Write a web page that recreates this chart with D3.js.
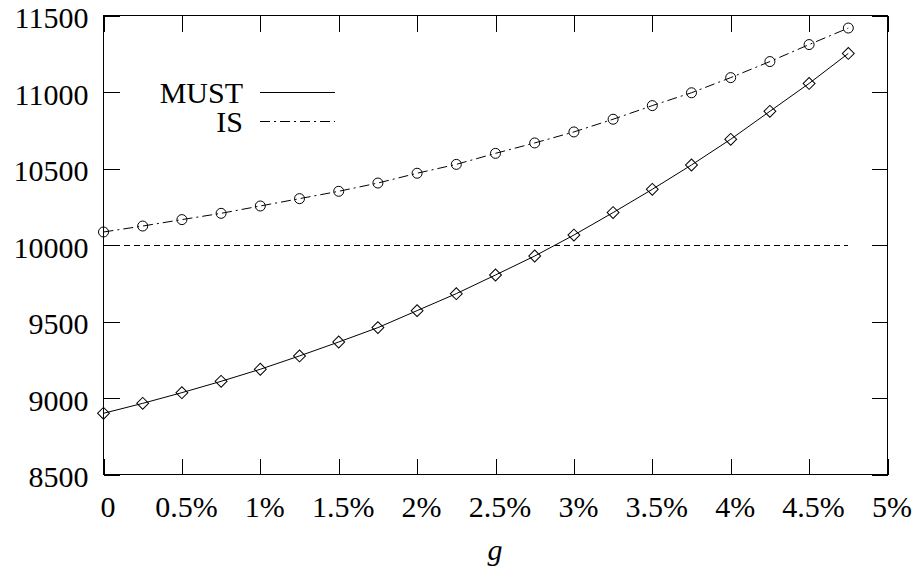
<!DOCTYPE html>
<html>
<head>
<meta charset="utf-8">
<script src="https://d3js.org/d3.v7.min.js"></script>
</head>
<body style="margin:0">
<script>
// growth rate g (0 .. 4.75%)
var gValues = [0, 0.0025, 0.005, 0.0075, 0.01, 0.0125, 0.015, 0.0175, 0.02, 0.0225,
               0.025, 0.0275, 0.03, 0.0325, 0.035, 0.0375, 0.04, 0.0425, 0.045, 0.0475];
var mustValues = [8900, 8965, 9035, 9109, 9188, 9275, 9366, 9460, 9571, 9682,
                  9804, 9928, 10065, 10212, 10364, 10523, 10691, 10874, 11056, 11252];
var isValues = [10085, 10124, 10166, 10207, 10255, 10303, 10351, 10405, 10469, 10527,
                10599, 10667, 10739, 10822, 10911, 10995, 11094, 11199, 11310, 11418];
var refLevel = 10000; // dashed reference line

var xTicks = [0, 0.005, 0.01, 0.015, 0.02, 0.025, 0.03, 0.035, 0.04, 0.045, 0.05];
var xTickLabels = ["0", "0.5%", "1%", "1.5%", "2%", "2.5%", "3%", "3.5%", "4%", "4.5%", "5%"];
var yTicks = [8500, 9000, 9500, 10000, 10500, 11000, 11500];
var seriesNames = ["MUST", "IS"];

var margin = {top: 15.5, left: 103.5};
var width = 784;
var height = 459;

var svg = d3.select("body").append("svg").attr("width", 913).attr("height", 570)
  .attr("font-family", "Liberation Serif").attr("font-size", 30);
var plot = svg.append("g").attr("transform", "translate(" + margin.left + "," + margin.top + ")");

var x = d3.scaleLinear().domain([0, 0.05]).range([0, width]);
var y = d3.scaleLinear().domain([8500, 11500]).range([height, 0]);

// frame
plot.append("rect").attr("width", width).attr("height", height)
  .attr("fill", "none").attr("stroke", "#000").attr("stroke-width", 1);

// tick labels, drawn as plain text
plot.selectAll(".ylab").data(yTicks).enter().append("text")
  .attr("class", "ylab")
  .attr("x", -15).attr("y", function(d) { return y(d); }).attr("dy", "0.42em")
  .attr("text-anchor", "end").attr("font-family", "Liberation Serif").attr("font-size", 30)
  .text(function(d) { return d; });
plot.selectAll(".xlab").data(xTicks).enter().append("text")
  .attr("class", "xlab")
  .attr("x", function(d) { return x(d) + 4.5; }).attr("y", height + 42)
  .attr("text-anchor", "middle").attr("font-family", "Liberation Serif").attr("font-size", 30)
  .text(function(d, i) { return xTickLabels[i]; });

// inward ticks on all four sides
var axes = [
  d3.axisLeft(y).tickValues(yTicks),
  d3.axisRight(y).tickValues(yTicks),
  d3.axisTop(x).tickValues(xTicks),
  d3.axisBottom(x).tickValues(xTicks)
];
var shifts = ["0,0", width + ",0", "0,0", "0," + height];
axes.forEach(function(a, i) {
  plot.append("g").attr("transform", "translate(" + shifts[i] + ")")
    .call(a.tickFormat("").tickSizeInner(-16).tickSizeOuter(0));
});
plot.selectAll(".domain").remove();
plot.selectAll(".tick line").attr("stroke", "#000").attr("shape-rendering", "crispEdges");

// reference line at 10000
plot.append("line")
  .attr("x1", x(gValues[0])).attr("x2", x(gValues[gValues.length - 1]))
  .attr("y1", y(refLevel)).attr("y2", y(refLevel))
  .attr("stroke", "#000").attr("stroke-dasharray", "6,4").attr("shape-rendering", "crispEdges");

var line = d3.line()
  .x(function(d, i) { return x(gValues[i]); })
  .y(function(d) { return y(d); });

// MUST: solid line with diamonds
plot.append("path").datum(mustValues).attr("d", line)
  .attr("fill", "none").attr("stroke", "#000").attr("stroke-width", 1);
plot.selectAll(".must").data(mustValues).enter().append("rect")
  .attr("class", "must")
  .attr("x", -4.2).attr("y", -4.2).attr("width", 8.4).attr("height", 8.4)
  .attr("transform", function(d, i) { return "translate(" + x(gValues[i]) + "," + y(d) + ") rotate(45)"; })
  .attr("fill", "none").attr("stroke", "#000").attr("stroke-width", 1);

// IS: dash-dot line with circles
plot.append("path").datum(isValues).attr("d", line)
  .attr("fill", "none").attr("stroke", "#000").attr("stroke-width", 1)
  .attr("stroke-dasharray", "10,4,2,4");
plot.selectAll(".is").data(isValues).enter().append("circle")
  .attr("class", "is")
  .attr("cx", function(d, i) { return x(gValues[i]); })
  .attr("cy", function(d) { return y(d); })
  .attr("r", 5)
  .attr("fill", "none").attr("stroke", "#000").attr("stroke-width", 1);

// legend
seriesNames.forEach(function(name, i) {
  var ly = 92 + i * 29;
  svg.append("text").attr("x", 243).attr("y", ly + 11).attr("text-anchor", "end")
    .attr("font-family", "Liberation Serif").attr("font-size", 30).text(name);
  svg.append("line").attr("x1", 260).attr("x2", 335).attr("y1", ly + 0.5).attr("y2", ly + 0.5)
    .attr("stroke", "#000").attr("stroke-dasharray", i == 0 ? null : "10,4,2,4");
});

// x-axis title
svg.append("text").attr("x", 495).attr("y", 560).attr("text-anchor", "middle")
  .attr("font-family", "Liberation Serif").attr("font-size", 30).attr("font-style", "italic").text("g");
</script>
</body>
</html>
